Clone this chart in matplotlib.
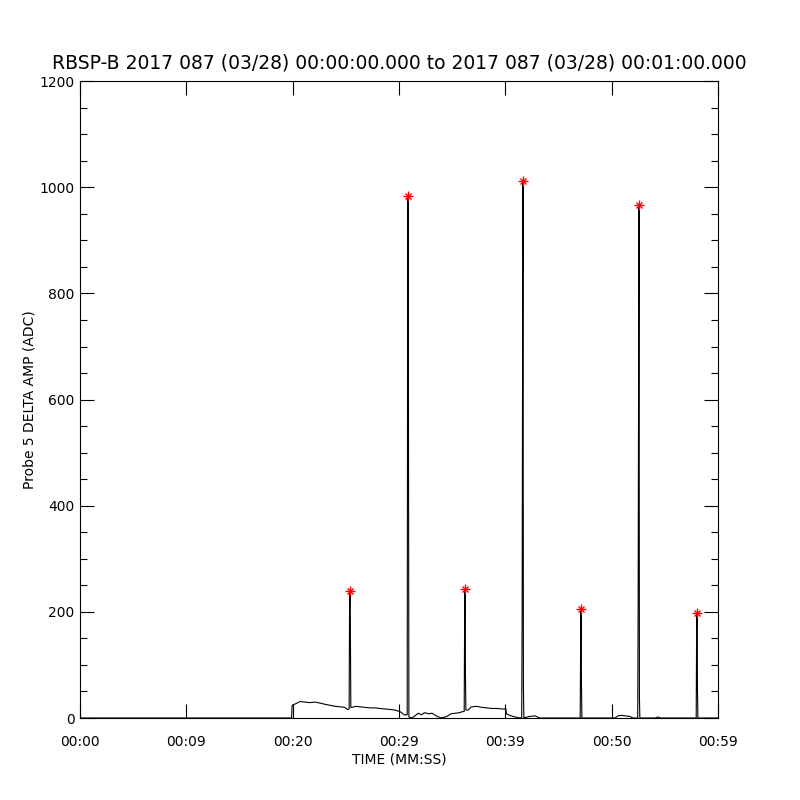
import numpy as np
import matplotlib
matplotlib.use("Agg")
import matplotlib.pyplot as plt
from matplotlib.ticker import MultipleLocator

# baseline trace (seconds, ADC)
base_t = [0.0, 19.90, 19.95, 20.3, 20.7, 21.2, 21.6, 22.1, 22.6, 23.0, 23.5,
          24.0, 24.5, 24.9, 25.15, 25.6, 25.9, 26.4, 26.8, 27.3, 27.8, 28.2,
          28.7, 29.2, 29.6, 30.1, 30.5, 31.2, 31.5, 31.8, 32.1, 32.4, 32.8,
          33.1, 33.6, 34.0, 34.5, 34.9, 35.3, 35.7, 35.95, 36.5, 36.8, 37.3,
          37.8, 38.3, 38.7, 39.2, 39.7, 40.05, 40.1, 40.4, 40.9, 41.4, 41.9,
          42.3, 42.8, 43.2, 46.9, 47.35, 50.3, 50.6, 50.9, 51.3, 51.7, 52.0,
          52.3, 52.8, 54.1, 54.35, 54.6, 57.8, 58.25, 60.0]
base_v = [0, 0, 24, 27, 31, 30, 29, 30, 28, 26, 24,
          22, 21, 20, 16, 20, 22, 21, 20, 19, 19, 18,
          17, 16, 15, 12, 6, 0, 4, 9, 6, 10, 8,
          9, 3, 0, 3, 8, 9, 10, 12, 15, 21, 22,
          20, 19, 18, 18, 17, 17, 8, 5, 2, 0, 1,
          3, 4, 0, 0, 0, 0, 4, 5, 4, 3, 0,
          0, 0, 0, 2, 0, 0, 0, 0]

# spikes: peak time, peak value (red asterisks), samples around the peak
peak_t = [25.39, 30.85, 36.21, 41.66, 47.12, 52.57, 58.03]
peak_v = [239, 983, 243, 1011, 205, 966, 198]
pre_v = [[17, 203], [6, 750], [12, 175], [1, 190, 655], [0, 140],
         [0, 215, 605], [0, 165]]
post_v = [[160, 20], [580, 2], [80, 15], [60, 1], [60, 0], [40, 0], [50, 0]]

tick_pos = [0, 10, 20, 30, 40, 50, 60]
tick_lab = ['00:00', '00:09', '00:20', '00:29', '00:39', '00:50', '00:59']

dt = 0.04
t_all = list(base_t)
v_all = list(base_v)
for tp, vp, pre, post in zip(peak_t, peak_v, pre_v, post_v):
    for k, v in enumerate(pre):
        t_all.append(tp - dt * (len(pre) - k))
        v_all.append(v)
    t_all.append(tp)
    v_all.append(vp)
    for k, v in enumerate(post):
        t_all.append(tp + dt * (k + 1))
        v_all.append(v)
order = np.argsort(t_all, kind="stable")
t_all = np.array(t_all)[order]
v_all = np.array(v_all)[order]

plt.rcParams['font.family'] = ['DejaVu Sans']
fig = plt.figure(figsize=(8, 8), dpi=100)
ax = fig.add_axes([0.1, 0.1025, 0.7975, 0.796])

ax.plot(t_all, v_all, color='black', lw=0.8)
ax.plot(peak_t, peak_v, ls='none', marker='+', color='red', ms=7, mew=1.0)
ax.plot(peak_t, peak_v, ls='none', marker='x', color='red', ms=5, mew=1.0)

ax.set_xlim(0, 60)
ax.set_ylim(0, 1200)
ax.set_xticks(tick_pos)
ax.set_xticklabels(tick_lab)
ax.yaxis.set_major_locator(MultipleLocator(200))
ax.yaxis.set_minor_locator(MultipleLocator(50))
ax.tick_params(axis='both', which='major', direction='in', length=10,
               width=0.8, top=True, right=True, labelsize=10)
ax.tick_params(axis='x', which='major', pad=12)
ax.tick_params(axis='y', which='major', pad=4)
ax.tick_params(axis='y', which='minor', direction='in', length=5,
               width=0.8, right=True)
for s in ax.spines.values():
    s.set_linewidth(0.8)

ax.set_xlabel('TIME (MM:SS)', fontsize=10, labelpad=3)
ax.set_ylabel('Probe 5 DELTA AMP (ADC)', fontsize=10, labelpad=2)
ax.set_title('RBSP-B 2017 087 (03/28) 00:00:00.000 to 2017 087 (03/28) 00:01:00.000',
             fontsize=13.5, pad=9)

fig.savefig('out.png', dpi=100)
